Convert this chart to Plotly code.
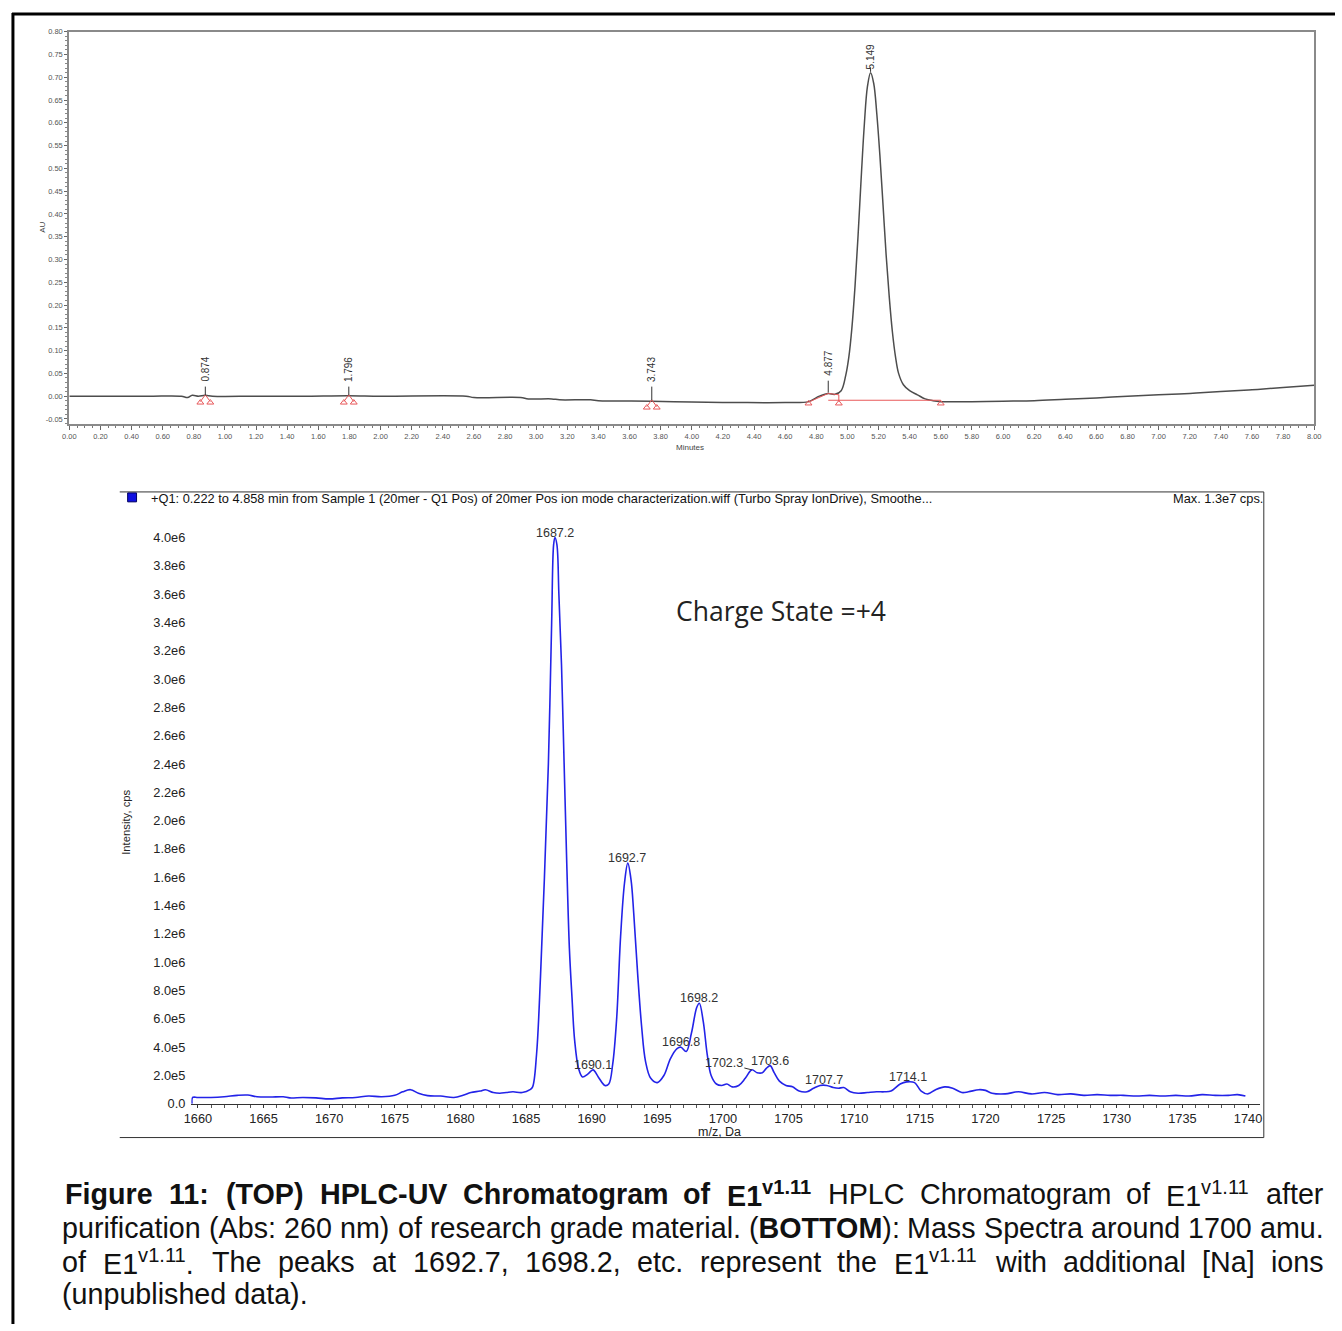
import plotly.graph_objects as go

W, H = 1342, 1331

# ---------------- HPLC chromatogram data (minutes, AU) ----------------
hplc_t = [0.00, 0.50, 0.72, 0.76, 0.79, 0.83, 0.874, 0.92, 1.20, 1.50, 1.796, 2.00, 2.55, 2.60, 2.90,
          2.95, 3.10, 3.15, 3.35, 3.40, 3.743, 4.00, 4.30, 4.60, 4.75, 4.82, 4.877, 4.92, 4.96,
          4.989, 5.009, 5.029, 5.049, 5.069, 5.089, 5.109, 5.129, 5.149, 5.169, 5.189, 5.209,
          5.229, 5.249, 5.269, 5.289, 5.309, 5.329, 5.36, 5.40, 5.45, 5.50, 5.55, 5.60, 5.80,
          6.00, 6.20, 6.40, 6.60, 6.80, 7.00, 7.20, 7.40, 7.60, 7.80, 8.00]
hplc_au = [0.000, 0.000, 0.000, -0.003, 0.002, 0.000, 0.002, 0.000, 0.000, 0.000, 0.001, 0.000, 0.000,
           -0.003, -0.003, -0.006, -0.006, -0.008, -0.008, -0.010, -0.011, -0.013, -0.014, -0.014,
           -0.012, 0.000, 0.006, 0.004, 0.012, 0.045, 0.085, 0.150, 0.241, 0.355, 0.481, 0.597, 0.680,
           0.710, 0.687, 0.620, 0.528, 0.420, 0.310, 0.218, 0.142, 0.087, 0.050, 0.025, 0.012, 0.003,
           -0.006, -0.010, -0.012, -0.012, -0.011, -0.010, -0.007, -0.004, 0.000, 0.003, 0.006,
           0.010, 0.014, 0.019, 0.024]

hplc_peak_rt = [0.874, 1.796, 3.743, 4.877, 5.149]
hplc_peak_labels = ["0.874", "1.796", "3.743", "4.877", "5.149"]
hplc_label_au = [0.059, 0.059, 0.059, 0.072, 0.745]
hplc_base_au = [0.000, 0.000, -0.011, 0.006, 0.710]

# integration baseline markers (red)
int_pairs = [(0.842, 0.906), (1.764, 1.828), (3.711, 3.775)]
int_pair_au = [0.000, 0.000, -0.011]

hplc_xticks = [round(i * 0.2, 2) for i in range(41)]
hplc_yticks = [round(-0.05 + i * 0.05, 2) for i in range(18)]

# ---------------- Mass spectrum data (m/z, intensity cps) ----------------
ms_mz = [1659.55, 1659.6, 1660.0, 1661.0, 1662.0, 1663.0, 1663.8, 1664.5, 1665.5, 1666.5, 1667.0,
         1668.0, 1669.0, 1670.0, 1671.0, 1672.0, 1673.0, 1674.0, 1675.0, 1675.6, 1676.2, 1676.8,
         1677.5, 1678.5, 1679.5, 1680.2, 1680.8, 1681.5, 1681.9, 1682.5, 1683.0, 1683.5, 1684.0,
         1684.7, 1685.3, 1685.5, 1685.8, 1686.1, 1686.4, 1686.7, 1686.95, 1687.1, 1687.2, 1687.35,
         1687.5, 1687.7, 1687.9, 1688.1, 1688.3, 1688.5, 1688.7, 1689.0, 1689.3, 1689.7, 1690.1,
         1690.5, 1691.0, 1691.3, 1691.6, 1691.9, 1692.2, 1692.5, 1692.75, 1693.0, 1693.2, 1693.5,
         1693.8, 1694.1, 1694.5, 1695.0, 1695.5, 1696.0, 1696.5, 1696.8, 1697.2, 1697.6, 1698.0,
         1698.2, 1698.5, 1698.8, 1699.1, 1699.5, 1699.9, 1700.3, 1700.7, 1701.2, 1701.7, 1702.2,
         1702.6, 1703.0, 1703.3, 1703.6, 1703.9, 1704.3, 1704.8, 1705.3, 1705.8, 1706.4, 1706.9,
         1707.4, 1707.9, 1708.4, 1708.8, 1709.2, 1709.7, 1710.3, 1711.0, 1711.7, 1712.3, 1712.8,
         1713.5, 1714.0, 1714.6, 1715.1, 1715.6, 1716.2, 1716.9, 1717.5, 1718.2, 1718.7, 1719.5,
         1720.0, 1720.5, 1721.5, 1722.5, 1723.5, 1724.5, 1725.5, 1726.5, 1727.5, 1728.5, 1729.5,
         1730.5, 1731.5, 1732.5, 1733.5, 1734.5, 1735.5, 1736.5, 1737.5, 1738.5, 1739.2, 1739.8]
ms_int_e6 = [0.0, 0.045, 0.045, 0.045, 0.050, 0.060, 0.062, 0.050, 0.048, 0.050, 0.042,
             0.045, 0.042, 0.035, 0.042, 0.045, 0.055, 0.050, 0.060, 0.085, 0.100, 0.075,
             0.058, 0.055, 0.045, 0.060, 0.080, 0.090, 0.100, 0.080, 0.075, 0.080, 0.085,
             0.080, 0.100, 0.120, 0.350, 0.900, 1.600, 2.400, 3.400, 3.950, 4.000, 3.950,
             3.600, 3.100, 2.400, 1.700, 1.100, 0.750, 0.450, 0.250, 0.190, 0.210, 0.240,
             0.190, 0.130, 0.140, 0.280, 0.600, 1.180, 1.560, 1.700, 1.580, 1.350, 0.920,
             0.550, 0.300, 0.180, 0.150, 0.200, 0.320, 0.390, 0.400, 0.370, 0.500, 0.680,
             0.710, 0.580, 0.350, 0.200, 0.140, 0.130, 0.140, 0.120, 0.130, 0.180, 0.240,
             0.220, 0.220, 0.250, 0.270, 0.220, 0.160, 0.130, 0.120, 0.090, 0.085, 0.110,
             0.130, 0.130, 0.115, 0.110, 0.115, 0.085, 0.075, 0.080, 0.085, 0.085, 0.090,
             0.140, 0.155, 0.150, 0.090, 0.070, 0.100, 0.120, 0.110, 0.080, 0.085, 0.100,
             0.095, 0.075, 0.070, 0.085, 0.070, 0.080, 0.065, 0.070, 0.060, 0.065, 0.060,
             0.060, 0.055, 0.060, 0.055, 0.060, 0.055, 0.065, 0.060, 0.060, 0.065, 0.055]
ms_int = [v * 1e6 for v in ms_int_e6]

ms_peak_mz = [1687.2, 1690.1, 1692.7, 1696.8, 1698.2, 1703.6, 1707.7, 1714.1]
ms_peak_int = [4.00e6, 0.24e6, 1.70e6, 0.40e6, 0.71e6, 0.27e6, 0.13e6, 0.155e6]
ms_leader_mz, ms_leader_int = 1702.2, 0.24e6

ms_ytick_vals = [i * 2e5 for i in range(21)]
ms_ytick_text = ["0.0", "2.0e5", "4.0e5", "6.0e5", "8.0e5", "1.0e6", "1.2e6", "1.4e6", "1.6e6",
                 "1.8e6", "2.0e6", "2.2e6", "2.4e6", "2.6e6", "2.8e6", "3.0e6", "3.2e6", "3.4e6",
                 "3.6e6", "3.8e6", "4.0e6"]
ms_xtick_vals = list(range(1660, 1741, 5))

# ---------------- caption (words as segments: text, bold, superscript) ----------------
E1B = [("E1", True, False), ("v1.11", True, True)]
E1R = [("E1", False, False), ("v1.11", False, True)]
cap_line1 = [[("Figure", True, False)], [("11:", True, False)], [("(TOP)", True, False)],
             [("HPLC-UV", True, False)], [("Chromatogram", True, False)], [("of", True, False)], E1B,
             [("HPLC", False, False)], [("Chromatogram", False, False)], [("of", False, False)], E1R,
             [("after", False, False)]]
cap_line2 = [[(w, False, False)] for w in "purification (Abs: 260 nm) of research grade material.".split()] + \
            [[("(", False, False), ("BOTTOM", True, False), ("):", False, False)]] + \
            [[(w, False, False)] for w in "Mass Spectra around 1700 amu.".split()]
cap_line3 = [[("of", False, False)], E1R + [(".", False, False)]] + \
            [[(w, False, False)] for w in "The peaks at 1692.7, 1698.2, etc. represent the".split()] + \
            [E1R] + [[(w, False, False)] for w in "with additional [Na] ions".split()]
cap_line4 = "(unpublished data)."

# Arial / Liberation Sans advance widths (per 1000 em)
REG = {' ': 278, '(': 333, ')': 333, ':': 278, '-': 333, '.': 278, ',': 278, '[': 278, ']': 278,
       'A': 667, 'B': 667, 'C': 722, 'D': 722, 'E': 667, 'F': 611, 'H': 722, 'L': 556, 'M': 833,
       'N': 722, 'O': 778, 'P': 667, 'S': 667, 'T': 611, 'U': 722, 'V': 667,
       'a': 556, 'b': 556, 'c': 500, 'd': 556, 'e': 556, 'f': 278, 'g': 556, 'h': 556, 'i': 222,
       'j': 222, 'k': 500, 'l': 222, 'm': 833, 'n': 556, 'o': 556, 'p': 556, 'q': 556, 'r': 333,
       's': 500, 't': 278, 'u': 556, 'v': 500, 'w': 722, 'x': 500, 'y': 500, 'z': 500}
BLD = {' ': 278, '(': 333, ')': 333, ':': 333, '-': 333, '.': 278, ',': 278, '[': 333, ']': 333,
       'A': 722, 'B': 722, 'C': 722, 'D': 722, 'E': 667, 'F': 611, 'H': 722, 'L': 611, 'M': 833,
       'N': 722, 'O': 778, 'P': 667, 'S': 667, 'T': 611, 'U': 722, 'V': 667,
       'a': 556, 'b': 611, 'c': 556, 'd': 611, 'e': 556, 'f': 333, 'g': 611, 'h': 611, 'i': 278,
       'j': 278, 'k': 556, 'l': 278, 'm': 889, 'n': 611, 'o': 611, 'p': 611, 'q': 611, 'r': 389,
       's': 556, 't': 333, 'u': 611, 'v': 556, 'w': 778, 'x': 556, 'y': 556, 'z': 500}


def seg_width(text, bold, sup, size):
    tbl = BLD if bold else REG
    w = sum(tbl.get(c, 556) for c in text) / 1000 * size
    return w * (0.7 if sup else 1.0)


def seg_html(segs):
    out = ""
    for text, bold, sup in segs:
        t = text
        if sup:
            t = f"<sup>{t}</sup>"
        if bold:
            t = f"<b>{t}</b>"
        out += t
    return out


def px(x):
    return x / W


def py(y):
    return 1 - y / H


def pann(x, y, text, font, xanchor="center", yanchor="middle", **kw):
    d = dict(x=px(x), y=py(y), xref="paper", yref="paper", text=text, showarrow=False,
             xanchor=xanchor, yanchor=yanchor, font=font)
    d.update(kw)
    return d


fig = go.Figure()

fig.add_trace(go.Scatter(x=hplc_t, y=hplc_au, mode="lines", line=dict(color="#4d4d4d", width=1.5),
                         xaxis="x", yaxis="y", hoverinfo="skip", line_shape="spline"))

RED = "#e8585a"
for (a, b), base, rt in zip(int_pairs, int_pair_au, hplc_peak_rt[:3]):
    fig.add_trace(go.Scatter(x=[a, rt, b], y=[base - 0.012, base + 0.003, base - 0.012], mode="lines",
                             line=dict(color=RED, width=1), xaxis="x", yaxis="y", hoverinfo="skip"))
    fig.add_trace(go.Scatter(x=[a, b], y=[base - 0.014, base - 0.014], mode="markers",
                             marker=dict(symbol="triangle-up-open", size=6, color=RED, line=dict(width=1)),
                             xaxis="x", yaxis="y", hoverinfo="skip"))
fig.add_trace(go.Scatter(x=[4.75, 4.877, 4.945, 4.945], y=[-0.013, 0.006, 0.003, -0.012], mode="lines",
                         line=dict(color=RED, width=1), xaxis="x", yaxis="y", hoverinfo="skip"))
fig.add_trace(go.Scatter(x=[4.877, 5.60], y=[-0.009, -0.009], mode="lines",
                         line=dict(color=RED, width=1.2), xaxis="x", yaxis="y", hoverinfo="skip"))
fig.add_trace(go.Scatter(x=[4.75, 4.945, 5.60], y=[-0.016, -0.016, -0.016], mode="markers",
                         marker=dict(symbol="triangle-up-open", size=6, color=RED, line=dict(width=1)),
                         xaxis="x", yaxis="y", hoverinfo="skip"))

for rt, lab_au, base in zip(hplc_peak_rt, hplc_label_au, hplc_base_au):
    top = lab_au - 0.038 if lab_au < 0.5 else base + 0.012
    fig.add_trace(go.Scatter(x=[rt, rt], y=[top, base + 0.002], mode="lines",
                             line=dict(color="#333", width=1), xaxis="x", yaxis="y", hoverinfo="skip"))

fig.add_trace(go.Scatter(x=ms_mz, y=ms_int, mode="lines", line=dict(color="#2323e8", width=1.6),
                         xaxis="x2", yaxis="y2", hoverinfo="skip", line_shape="spline"))
fig.add_trace(go.Scatter(x=[1659.35], y=[0.11e6], mode="markers",
                         marker=dict(symbol="triangle-right", size=8, color="#1a1a7a"),
                         xaxis="x2", yaxis="y2", hoverinfo="skip", cliponaxis=False))

annotations = []
SMALL = dict(family="Arial, Liberation Sans", size=8, color="#444")
for rt, lab, lab_au in zip(hplc_peak_rt, hplc_peak_labels, hplc_label_au):
    annotations.append(dict(x=rt, y=lab_au, xref="x", yref="y", text=lab, textangle=-90,
                            showarrow=False, xanchor="center", yanchor="middle",
                            font=dict(family="Arial, Liberation Sans", size=10, color="#333")))
annotations.append(pann(35, 225, "AU", SMALL, textangle=-90))
annotations.append(pann(690, 447, "Minutes", SMALL))

LF = dict(family="Arial, Liberation Sans", size=12.5, color="#333")
for mz, it in zip(ms_peak_mz, ms_peak_int):
    annotations.append(dict(x=mz, y=it, xref="x2", yref="y2", text=f"{mz:.1f}", showarrow=False,
                            xanchor="center", yanchor="bottom", yshift=-4, font=LF))
annotations.append(dict(x=ms_leader_mz, y=ms_leader_int, xref="x2", yref="y2", text="1702.3",
                        showarrow=True, arrowhead=0, arrowwidth=1, arrowcolor="#333", ax=-28, ay=-7,
                        font=LF))
annotations.append(pann(782, 612, "Charge State =+4", dict(family="Open Sans", size=26.5, color="#222")))
annotations.append(pann(120, 825, "Intensity, cps", dict(family="Arial, Liberation Sans", size=11.3, color="#222"),
                        textangle=-90))
annotations.append(pann(720, 1137, "m/z, Da", dict(family="Arial, Liberation Sans", size=12.5, color="#222")))
HF = dict(family="Arial, Liberation Sans", size=12.8, color="#111")
annotations.append(pann(143, 499, "+Q1: 0.222 to 4.858 min from Sample 1 (20mer - Q1 Pos) of 20mer Pos ion mode characterization.wiff (Turbo Spray IonDrive), Smoothe...",
                        HF, xanchor="left"))
annotations.append(pann(1271, 499, "Max. 1.3e7 cps.", HF, xanchor="right"))

CAP_SIZE = 28.7
CF = dict(family="Liberation Sans, Arial", size=CAP_SIZE, color="#111")
CAP_LEFT, CAP_RIGHT = 53, 1328


def add_justified(words, ycen, left=CAP_LEFT, right=CAP_RIGHT):
    widths = [sum(seg_width(t, b, s, CAP_SIZE) for t, b, s in w) for w in words]
    gap = (right - left - sum(widths)) / (len(words) - 1)
    x = left
    for w, wd in zip(words, widths):
        annotations.append(pann(x, ycen, seg_html(w), CF, xanchor="left"))
        x += wd + gap


add_justified(cap_line1, 1200, left=56)
add_justified(cap_line2, 1234)
add_justified(cap_line3, 1268)
annotations.append(pann(CAP_LEFT, 1301, cap_line4, CF, xanchor="left"))

shapes = [
    dict(type="line", xref="paper", yref="paper", x0=px(4), x1=px(1342), y0=py(10), y1=py(10),
         line=dict(color="#000", width=3)),
    dict(type="line", xref="paper", yref="paper", x0=px(5), x1=px(5), y0=py(9), y1=py(1331),
         line=dict(color="#000", width=3)),
    dict(type="line", xref="paper", yref="paper", x0=px(113), x1=px(1270), y0=py(492), y1=py(492),
         line=dict(color="#333", width=1)),
    dict(type="line", xref="paper", yref="paper", x0=px(1270), x1=px(1270), y0=py(492), y1=py(1143),
         line=dict(color="#333", width=1)),
    dict(type="line", xref="paper", yref="paper", x0=px(113), x1=px(1270), y0=py(1143), y1=py(1143),
         line=dict(color="#333", width=1)),
    dict(type="rect", xref="paper", yref="paper", x0=px(121), x1=px(130), y0=py(502), y1=py(493),
         fillcolor="#1010e0", line=dict(color="#000060", width=1)),
]

TF = dict(family="Arial, Liberation Sans", size=7.5, color="#555")
MSF = dict(family="Arial, Liberation Sans", size=12.8, color="#222")
fig.update_layout(
    width=W, height=H, margin=dict(l=0, r=0, t=0, b=0),
    paper_bgcolor="white", plot_bgcolor="white", showlegend=False,
    xaxis=dict(domain=[px(62), px(1321)], anchor="y", range=[0, 8], tickvals=hplc_xticks,
               ticktext=[f"{v:.2f}" for v in hplc_xticks], ticks="outside", ticklen=4,
               tickcolor="#666", tickfont=TF, showgrid=False, zeroline=False, showline=True,
               mirror=True, linecolor="#8a8a8a", linewidth=2,
               minor=dict(dtick=0.05, ticks="outside", ticklen=2, tickcolor="#777")),
    yaxis=dict(domain=[py(423), py(28)], anchor="x", range=[-0.06, 0.80], tickvals=hplc_yticks,
               ticktext=[f"{v:.2f}" for v in hplc_yticks], ticks="outside", ticklen=3,
               tickcolor="#666", tickfont=TF, showgrid=False, zeroline=False, showline=True,
               mirror=True, linecolor="#8a8a8a", linewidth=2,
               minor=dict(dtick=0.01, ticks="outside", ticklen=2, tickcolor="#888")),
    xaxis2=dict(domain=[px(185.4), px(1266)], anchor="y2", range=[1659.5, 1740.9],
                tickvals=ms_xtick_vals, ticktext=[str(v) for v in ms_xtick_vals], ticks="outside",
                ticklen=3, tickcolor="#333", tickfont=MSF,
                showgrid=False, zeroline=False, showline=True, linecolor="#333", linewidth=1,
                minor=dict(dtick=1, ticks="outside", ticklen=3, tickcolor="#555")),
    yaxis2=dict(domain=[py(1109), py(523.7)], anchor="x2", range=[0, 4.1e6], tickvals=ms_ytick_vals,
                ticktext=ms_ytick_text, ticks="", ticklabelstandoff=5, tickfont=MSF,
                showgrid=False, zeroline=False, showline=False),
    annotations=annotations, shapes=shapes,
)

POST = ("document.documentElement.style.margin='0';document.body.style.margin='0';"
        "document.body.style.padding='0';")
fig.write_html("out.html", post_script=POST)
